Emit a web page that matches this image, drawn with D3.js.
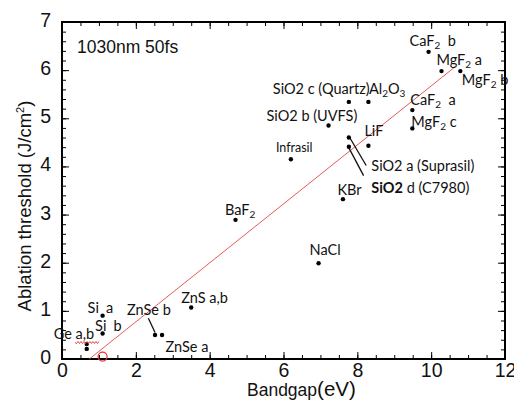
<!DOCTYPE html>
<html>
<head>
<meta charset="utf-8">
<script src="https://cdn.jsdelivr.net/npm/d3@7/dist/d3.min.js"></script>
<style>
  html, body { margin: 0; padding: 0; background: #fff; }
  svg { display: block; }
  .lab { font-family: Lato, "Open Sans", sans-serif; font-size: 14.5px; fill: #111; white-space: pre; }
  .ax text { font-family: "Liberation Sans", Arial, sans-serif; font-size: 19.5px; fill: #111; }
  .title { font-family: "Liberation Sans", Arial, sans-serif; fill: #111; white-space: pre; }
</style>
</head>
<body>
<svg id="chart" width="514" height="401"></svg>
<script>
// Ablation threshold vs. bandgap, 1030 nm / 50 fs
const materials = ["Ge a", "Ge b", "Si a", "Si b", "ZnSe b", "ZnSe a", "ZnS a,b", "BaF2",
  "Infrasil", "NaCl", "KBr", "SiO2 b (UVFS)", "SiO2 c (Quartz)", "Al2O3", "SiO2 a (Suprasil)",
  "SiO2 d (C7980)", "LiF", "CaF2 a", "MgF2 c", "CaF2 b", "MgF2 a", "MgF2 b"];
const bandgap = [0.67, 0.67, 1.10, 1.10, 2.52, 2.71, 3.50, 4.70,
  6.20, 6.95, 7.61, 7.22, 7.77, 8.30, 7.77,
  7.77, 8.30, 9.49, 9.49, 9.93, 10.28, 10.79];
const threshold = [0.31, 0.21, 0.90, 0.53, 0.50, 0.50, 1.07, 2.89,
  4.15, 1.99, 3.32, 4.85, 5.34, 5.34, 4.60,
  4.41, 4.43, 5.17, 4.79, 6.38, 5.98, 5.98];

// linear trend line (bandgap, threshold) end points
const fitBandgap = [0.74, 10.65];
const fitThreshold = [0.0, 6.07];

// open red marker
const markerBandgap = [1.10];
const markerThreshold = [0.05];

const xTickLabels = [0, 2, 4, 6, 8, 10, 12];
const yTickLabels = [0, 1, 2, 3, 4, 5, 6, 7];

// label pieces: [text, style, optional x shift from the label start]
// style: "" normal, "sub" subscript, "b" bold, "small" smaller text
const labelText = {
  "Ge a": [["Ge a,b", ""]],
  "Si a": [["Si", ""], ["a", "", 18.5]],
  "Si b": [["Si", ""], ["b", "", 18.3]],
  "ZnSe b": [["ZnSe b", ""]],
  "ZnSe a": [["ZnSe a", ""]],
  "ZnS a,b": [["ZnS a,b", ""]],
  "BaF2": [["BaF", ""], ["2", "sub"]],
  "Infrasil": [["Infrasil", "small"]],
  "NaCl": [["NaCl", ""]],
  "KBr": [["KBr", ""]],
  "SiO2 b (UVFS)": [["SiO2 b (UVFS)", ""]],
  "SiO2 c (Quartz)": [["SiO2 c (Quartz)", ""]],
  "Al2O3": [["Al", ""], ["2", "sub"], ["O", ""], ["3", "sub"]],
  "SiO2 a (Suprasil)": [["SiO2 a (Suprasil)", ""]],
  "SiO2 d (C7980)": [["SiO2", "b"], [" d (C7980)", ""]],
  "LiF": [["LiF", ""]],
  "CaF2 a": [["CaF", ""], ["2", "sub"], ["  a", ""]],
  "MgF2 c": [["MgF", ""], ["2", "sub"], [" c", ""]],
  "CaF2 b": [["CaF", ""], ["2", "sub"], ["  b", ""]],
  "MgF2 a": [["MgF", ""], ["2", "sub"], [" a", ""]],
  "MgF2 b": [["MgF", ""], ["2", "sub"], [" b", ""]]
};
// label placement, pixel offset from the point
const labelOffset = {
  "Ge a": [-33, -5], "Si a": [-15, -2.5], "Si b": [-7.5, -2.5], "ZnSe b": [-28, -20],
  "ZnSe a": [3.5, 17], "ZnS a,b": [-10, -4], "BaF2": [-10.5, -5], "Infrasil": [-15, -7.5],
  "NaCl": [-9, -8], "KBr": [-5.5, -4], "SiO2 b (UVFS)": [-62, -5], "SiO2 c (Quartz)": [-76, -8],
  "Al2O3": [0.5, -8], "SiO2 a (Suprasil)": [22.5, 33], "SiO2 d (C7980)": [22.5, 46],
  "LiF": [-4, -9.5], "CaF2 a": [-2, -5], "MgF2 c": [-1, -1], "CaF2 b": [-19, -6],
  "MgF2 a": [-5, -6], "MgF2 b": [1.5, 14]
};
// leader lines in data units: [[x1,y1],[x2,y2]]
const leaders = [
  [[2.34, 0.845], [2.52, 0.55]],
  [[7.80, 4.59], [8.24, 4.02]],
  [[7.76, 4.40], [8.17, 3.81]]
];

const svg = d3.select("#chart");
const W = 514, H = 401;
const m = { left: 62, right: 505, top: 22, bottom: 359 };

svg.append("rect").attr("width", W).attr("height", H).attr("fill", "#fff");

const x = d3.scaleLinear().domain([0, 12]).range([m.left, m.right]);
const y = d3.scaleLinear().domain([0, 7]).range([m.bottom, m.top]);

const minorX = d3.range(0, 12.001, 0.5);
const minorY = d3.range(0, 7.001, 0.2);

function styleAxis(g) {
  g.select(".domain").remove();
  g.selectAll(".tick line").attr("stroke", "#000").attr("stroke-width", 1);
  g.attr("class", "ax");
}

// bottom axis
svg.append("g").attr("transform", `translate(0,${m.bottom})`)
  .call(d3.axisBottom(x).tickValues(minorX).tickSize(-4).tickFormat(""))
  .call(styleAxis);
svg.append("g").attr("transform", `translate(0,${m.bottom})`)
  .call(d3.axisBottom(x).tickValues(xTickLabels).tickSize(-7).tickSizeOuter(0).tickPadding(4).tickFormat(d3.format("d")))
  .call(styleAxis);
// top axis
svg.append("g").attr("transform", `translate(0,${m.top})`)
  .call(d3.axisTop(x).tickValues(minorX).tickSize(-4).tickFormat(""))
  .call(styleAxis);
svg.append("g").attr("transform", `translate(0,${m.top})`)
  .call(d3.axisTop(x).tickValues(xTickLabels).tickSize(-7).tickFormat(""))
  .call(styleAxis);
// left axis
svg.append("g").attr("transform", `translate(${m.left},0)`)
  .call(d3.axisLeft(y).tickValues(minorY).tickSize(-4).tickFormat(""))
  .call(styleAxis);
const yAx = svg.append("g").attr("transform", `translate(${m.left},0)`)
  .call(d3.axisLeft(y).tickValues(yTickLabels).tickSize(-7).tickPadding(11).tickFormat(d3.format("d")))
  .call(styleAxis);
yAx.selectAll("text").attr("dy", "0.23em");
// right axis
svg.append("g").attr("transform", `translate(${m.right},0)`)
  .call(d3.axisRight(y).tickValues(minorY).tickSize(-4).tickFormat(""))
  .call(styleAxis);
svg.append("g").attr("transform", `translate(${m.right},0)`)
  .call(d3.axisRight(y).tickValues(yTickLabels).tickSize(-7).tickFormat(""))
  .call(styleAxis);

// frame
svg.append("rect")
  .attr("x", m.left).attr("y", m.top)
  .attr("width", m.right - m.left).attr("height", m.bottom - m.top)
  .attr("fill", "none").attr("stroke", "#000").attr("stroke-width", 2);

// trend line
svg.append("path")
  .datum(d3.zip(fitBandgap, fitThreshold))
  .attr("d", d3.line().x(d => x(d[0])).y(d => y(d[1])))
  .attr("fill", "none").attr("stroke", "#e65a5a").attr("stroke-width", 1);

// open marker
svg.selectAll("circle.mk").data(d3.zip(markerBandgap, markerThreshold)).join("circle")
  .attr("class", "mk")
  .attr("cx", d => x(d[0])).attr("cy", d => y(d[1])).attr("r", 4.5)
  .attr("fill", "none").attr("stroke", "#e8342f").attr("stroke-width", 1.2);

// leader lines
svg.selectAll("line.ld").data(leaders).join("line")
  .attr("class", "ld")
  .attr("x1", d => x(d[0][0])).attr("y1", d => y(d[0][1]))
  .attr("x2", d => x(d[1][0])).attr("y2", d => y(d[1][1]))
  .attr("stroke", "#111").attr("stroke-width", 1.3);

// data points
const pts = materials.map((n, i) => ({ name: n, bx: bandgap[i], th: threshold[i] }));
svg.selectAll("circle.pt").data(pts).join("circle")
  .attr("class", "pt")
  .attr("cx", d => x(d.bx)).attr("cy", d => y(d.th)).attr("r", 2.2)
  .attr("fill", "#000");

// point labels
pts.filter(d => labelText[d.name]).forEach(d => {
  const off = labelOffset[d.name];
  const lx = x(d.bx) + off[0];
  const t = svg.append("text").attr("class", "lab")
    .attr("x", lx).attr("y", y(d.th) + off[1]);
  let shifted = false;
  labelText[d.name].forEach(([s, kind, sx]) => {
    const ts = t.append("tspan").text(s);
    if (sx !== undefined) ts.attr("x", lx + sx);
    if (kind === "sub") {
      ts.attr("font-size", "10px").attr("dy", 3);
      shifted = true;
    } else {
      if (shifted) { ts.attr("dy", -3); shifted = false; }
      if (kind === "b") ts.attr("font-weight", "bold");
      if (kind === "small") ts.attr("font-size", "12.5px");
    }
  });
});

// red wavy underline under the Ge label
(function () {
  const x0 = 75, x1 = 98, yy = 342.5;
  let p = `M${x0},${yy}`;
  for (let xx = x0; xx < x1; xx += 1.5) {
    p += ` L${xx + 1.5},${yy + ((Math.round((xx - x0) / 1.5) % 2) ? -1 : 1)}`;
  }
  svg.append("path").attr("d", p).attr("fill", "none")
    .attr("stroke", "#e8342f").attr("stroke-width", 0.9);
})();

// annotation
svg.append("text").attr("class", "title")
  .attr("x", 77).attr("y", 52.5).attr("font-size", "17.5px").text("1030nm 50fs");

// x-axis title
const xt = svg.append("text").attr("class", "title").attr("x", 247).attr("y", 395.5);
xt.append("tspan").attr("font-size", "17.5px").text("Bandgap");
xt.append("tspan").attr("font-size", "20.5px").attr("dy", 0.5).text("(eV)");

// y-axis title
const yt = svg.append("text").attr("class", "title")
  .attr("transform", "translate(31,206) rotate(-90)")
  .attr("text-anchor", "middle").attr("font-size", "18.5px");
yt.append("tspan").text("Ablation threshold (J/cm");
yt.append("tspan").attr("font-size", "11px").attr("dy", -7).text("2");
yt.append("tspan").attr("dy", 7).text(")");
</script>
</body>
</html>
